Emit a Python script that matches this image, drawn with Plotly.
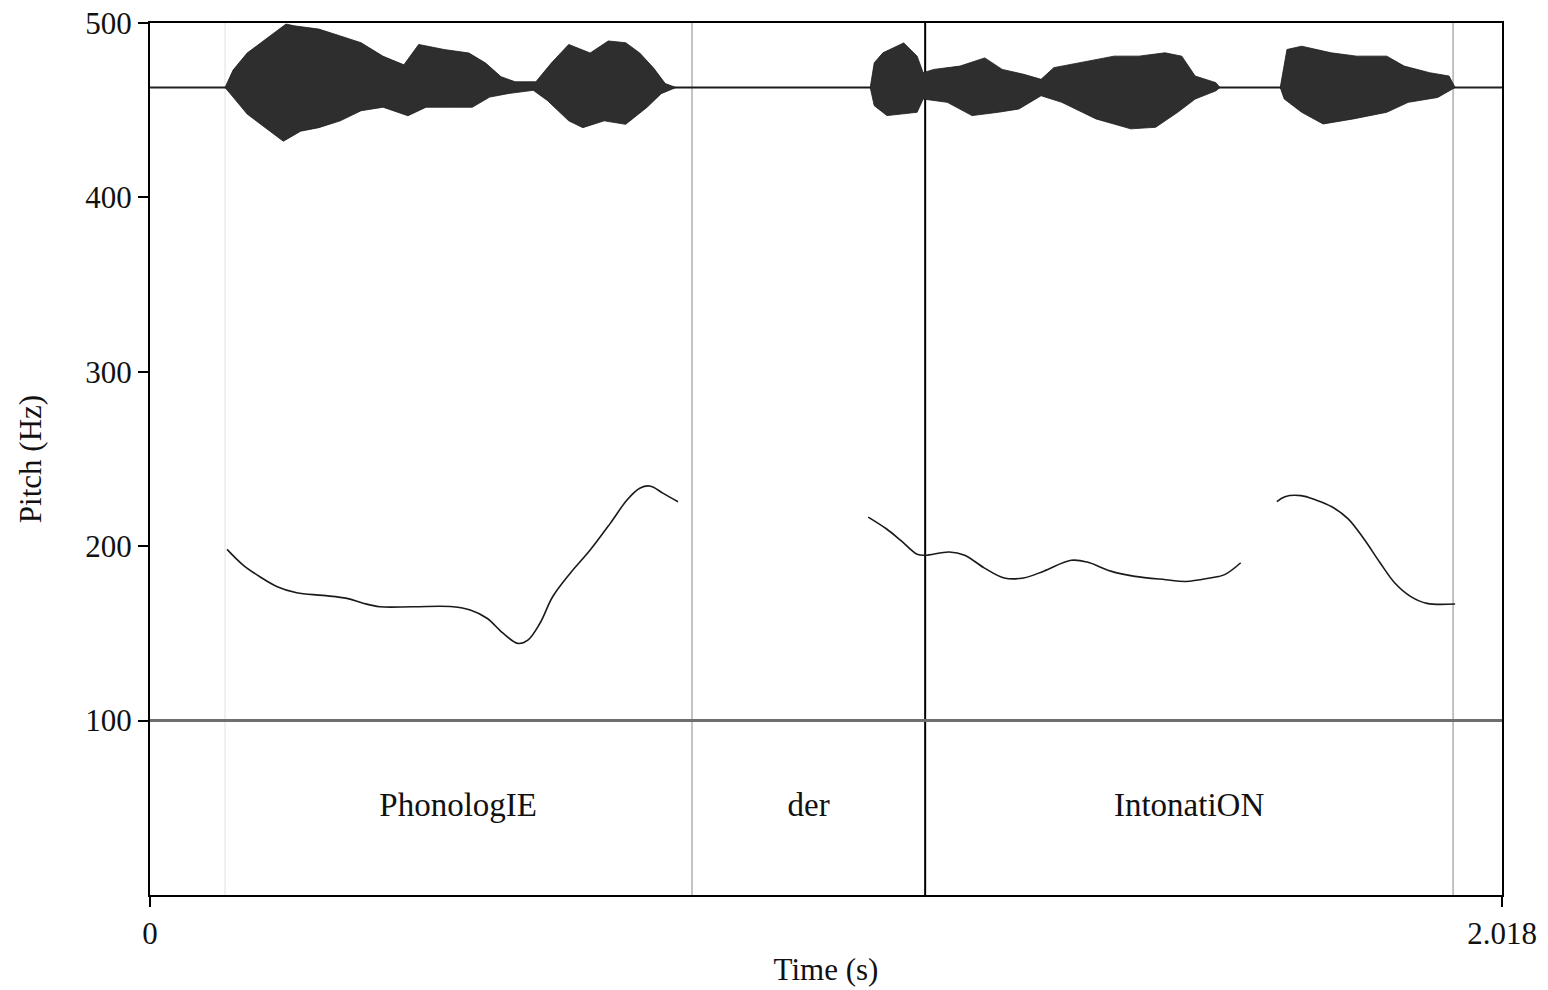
import plotly.graph_objects as go

# ---- data ----
duration = 2.018
baseline_hz = 463

# waveform envelope (in Hz units of the plot)
upper_t = [0.112, 0.124, 0.145, 0.182, 0.203, 0.215, 0.252, 0.284, 0.315, 0.348, 0.379, 0.401, 0.439, 0.476,
           0.501, 0.524, 0.545, 0.576, 0.599, 0.625, 0.657, 0.684, 0.710, 0.731, 0.752, 0.769, 0.785,
           1.075, 1.081, 1.094, 1.125, 1.145, 1.154, 1.170, 1.209, 1.246, 1.272, 1.304, 1.330, 1.349, 1.387,
           1.439, 1.476, 1.515, 1.540, 1.560, 1.591, 1.597,
           1.687, 1.697, 1.719, 1.763, 1.801, 1.846, 1.872, 1.910, 1.939, 1.948]
upper_hz = [463, 473, 482.8, 493.6, 499.4, 498.4, 496.5, 492.6, 488.7, 480.9, 476, 487.7, 484.8, 482.8,
            477, 469.2, 466.3, 466.3, 477, 487.7, 482.8, 489.7, 488.7, 482.8, 474, 465.3, 463,
            463, 477.2, 482.9, 488.6, 481, 471.5, 473.4, 475.3, 480, 473.4, 470.6, 467.7, 474.4, 477.2,
            481, 481, 482.9, 481, 469.6, 465.8, 463,
            463, 484.8, 486.7, 482.9, 481, 481, 475.3, 471.5, 469.6, 463]
lower_t = [0.112, 0.124, 0.145, 0.172, 0.199, 0.225, 0.252, 0.284, 0.315, 0.348, 0.385, 0.412, 0.449, 0.481,
           0.507, 0.534, 0.572, 0.593, 0.625, 0.646, 0.678, 0.710, 0.742, 0.763, 0.785,
           1.075, 1.081, 1.100, 1.145, 1.154, 1.190, 1.227, 1.266, 1.297, 1.330, 1.361, 1.412, 1.464,
           1.501, 1.534, 1.560, 1.591, 1.597,
           1.687, 1.693, 1.719, 1.751, 1.796, 1.846, 1.878, 1.922, 1.948]
lower_hz = [463, 457.5, 447.8, 440, 432.2, 438, 440, 443.9, 449.7, 451.7, 446.8, 451.7, 451.7, 451.7,
            457.5, 459.5, 461.4, 455.6, 443.9, 440, 443.9, 441.9, 451.7, 459.5, 463,
            463, 452.6, 446.9, 448.8, 456.4, 454.5, 446.9, 448.8, 450.7, 458.3, 454.5, 445, 439.3,
            440.2, 448.8, 456.4, 461.1, 463,
            463, 456.4, 448.8, 442.1, 445, 448.8, 454.5, 457.3, 463]

# pitch contour segments
pitch1_t = [0.115, 0.139, 0.164, 0.190, 0.219, 0.258, 0.294, 0.318, 0.343, 0.393, 0.452, 0.478, 0.503,
            0.527, 0.549, 0.564, 0.582, 0.601, 0.627, 0.657, 0.687, 0.712, 0.731, 0.746, 0.766, 0.788]
pitch1_hz = [198.2, 189.2, 182.5, 176.8, 173.3, 171.8, 170.1, 167.3, 165.3, 165.3, 165.3, 163.4, 158.7,
             150.1, 144.3, 146.2, 155.8, 171.0, 184.4, 197.8, 213.1, 226.5, 233.2, 234.5, 230.3, 225.5]
pitch2_t = [1.072, 1.099, 1.121, 1.145, 1.157, 1.193, 1.216, 1.245, 1.275, 1.304, 1.334, 1.375, 1.399,
            1.434, 1.470, 1.516, 1.546, 1.582, 1.604, 1.628]
pitch2_hz = [216.7, 210.0, 203.2, 195.4, 194.8, 196.7, 194.8, 187.6, 181.8, 181.8, 185.7, 191.9, 190.9,
             185.7, 182.7, 180.8, 179.8, 181.8, 183.7, 190.5]
pitch3_t = [1.682, 1.694, 1.718, 1.740, 1.764, 1.788, 1.812, 1.836, 1.858, 1.882, 1.906, 1.948]
pitch3_hz = [225.5, 228.4, 229.0, 226.5, 222.6, 215.8, 204.1, 190.5, 178.9, 171.1, 167.2, 166.9]

# interval boundaries and labels
boundary_t = [0.112, 0.809, 1.157, 1.945]
boundary_colors = ["#e2e2e2", "#b0b0b0", "#000000", "#b0b0b0"]
boundary_widths = [1, 1.5, 2, 1.5]
tier_hz = 100
labels = ["PhonologIE", "der", "IntonatiON"]
label_t = [0.460, 0.983, 1.551]
label_hz = [50, 50, 50]

y_ticks = [100, 200, 300, 400, 500]
x_ticks = [0, duration]
x_ticktext = ["0", "2.018"]

FONT = "Liberation Serif"

fig = go.Figure()

# boundaries
for t, c, w in zip(boundary_t, boundary_colors, boundary_widths):
    fig.add_trace(go.Scatter(x=[t, t], y=[0, 500], mode="lines",
                             line=dict(color=c, width=w), hoverinfo="skip", showlegend=False))

# tier line at 100 Hz
fig.add_trace(go.Scatter(x=[0, duration], y=[tier_hz, tier_hz], mode="lines",
                         line=dict(color="#6e6e6e", width=3), hoverinfo="skip", showlegend=False))

# waveform baseline
fig.add_trace(go.Scatter(x=[0, duration], y=[baseline_hz, baseline_hz], mode="lines",
                         line=dict(color="#222222", width=2), hoverinfo="skip", showlegend=False))

# waveform envelope polygon
poly_x = upper_t + lower_t[::-1]
poly_y = upper_hz + lower_hz[::-1]
fig.add_trace(go.Scatter(x=poly_x, y=poly_y, mode="lines", fill="toself",
                         fillcolor="#2e2e2e", line=dict(color="#1a1a1a", width=0.8),
                         hoverinfo="skip", showlegend=False))

# pitch contours
for tt, hh in [(pitch1_t, pitch1_hz), (pitch2_t, pitch2_hz), (pitch3_t, pitch3_hz)]:
    fig.add_trace(go.Scatter(x=tt, y=hh, mode="lines", line=dict(color="#1a1a1a", width=1.6, shape="spline"),
                             showlegend=False))

# labels
fig.add_trace(go.Scatter(x=label_t, y=label_hz, mode="text", text=labels,
                         textfont=dict(family=FONT, size=33, color="#111111"),
                         hoverinfo="skip", showlegend=False))

fig.update_layout(
    width=1548, height=990,
    margin=dict(l=150, r=46, t=23, b=95),
    paper_bgcolor="white", plot_bgcolor="white",
    font=dict(family=FONT, size=30, color="#111111"),
    showlegend=False,
)
fig.update_xaxes(range=[0, duration], tickvals=x_ticks, ticktext=x_ticktext, automargin=False,
                 showgrid=False, zeroline=False, showline=True, linecolor="black", linewidth=2,
                 mirror=True, ticks="outside", ticklen=10, tickcolor="black", tickwidth=2,
                 title=dict(text="Time (s)", font=dict(family=FONT, size=31), standoff=8),
                 tickfont=dict(family=FONT, size=31))
fig.update_yaxes(range=[0, 500], tickvals=y_ticks, automargin=False,
                 showgrid=False, zeroline=False, showline=True, linecolor="black", linewidth=2,
                 mirror=True, ticks="outside", ticklen=10, tickcolor="black", tickwidth=2,
                 title=dict(text="Pitch (Hz)", font=dict(family=FONT, size=31), standoff=34),
                 tickfont=dict(family=FONT, size=31))

fig.write_html("out.html")
